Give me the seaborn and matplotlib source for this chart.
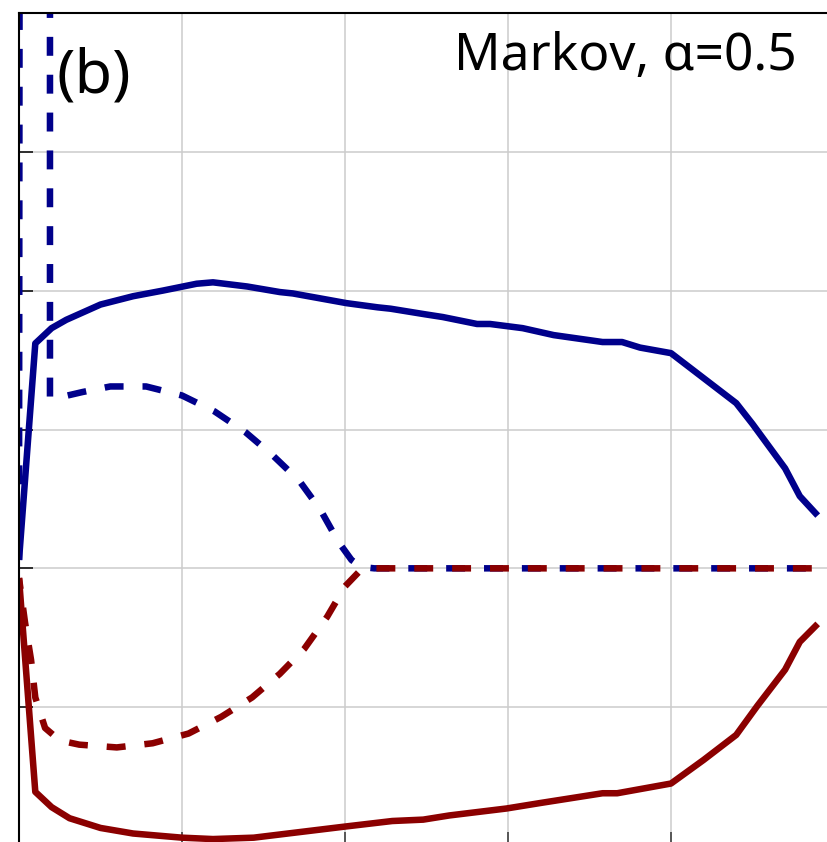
import numpy as np
import pandas as pd
import matplotlib
matplotlib.use("Agg")
import matplotlib.pyplot as plt
import seaborn as sns

# ---- data ----
blue_solid_x = [0.0, 0.10, 0.20, 0.29, 0.50, 0.70, 0.88, 1.09, 1.19, 1.40, 1.60, 1.68, 2.01, 2.20,
                2.28, 2.49, 2.60, 2.81, 2.89, 3.09, 3.28, 3.40, 3.58, 3.70, 3.81, 4.00, 4.40, 4.50,
                4.70, 4.79, 4.90]
blue_solid_y = [0.06, 1.62, 1.73, 1.79, 1.90, 1.96, 2.00, 2.05, 2.06, 2.03, 1.99, 1.98, 1.91, 1.88,
                1.87, 1.83, 1.81, 1.76, 1.76, 1.73, 1.68, 1.66, 1.63, 1.63, 1.59, 1.55, 1.19, 1.04,
                0.72, 0.52, 0.38]

blue_dash_x = [0.0, 0.008, 0.19, 0.19, 0.28, 0.39, 0.56, 0.78, 1.00, 1.20, 1.39, 1.56, 1.72, 1.85,
               1.96, 2.04, 2.10, 2.18, 4.90]
blue_dash_y = [0.06, 10.0, 10.0, 1.23, 1.24, 1.27, 1.31, 1.31, 1.245, 1.13, 0.98, 0.81, 0.63, 0.42,
               0.19, 0.06, 0.01, 0.0, 0.0]

red_solid_x = [0.0, 0.10, 0.20, 0.31, 0.50, 0.70, 1.00, 1.19, 1.44, 1.72, 2.00, 2.29, 2.48, 2.64,
               2.99, 3.20, 3.58, 3.67, 4.00, 4.20, 4.40, 4.53, 4.70, 4.79, 4.90]
red_solid_y = [-0.07, -1.61, -1.72, -1.80, -1.87, -1.91, -1.94, -1.95, -1.94, -1.90, -1.86, -1.82,
               -1.81, -1.78, -1.73, -1.69, -1.62, -1.62, -1.55, -1.38, -1.20, -0.99, -0.73, -0.53,
               -0.40]

red_dash_x = [0.0, 0.037, 0.074, 0.10, 0.16, 0.25, 0.37, 0.60, 0.82, 1.04, 1.24, 1.43, 1.60, 1.75,
              1.89, 2.00, 2.09, 2.18, 4.90]
red_dash_y = [-0.07, -0.39, -0.66, -0.93, -1.15, -1.24, -1.27, -1.29, -1.26, -1.19, -1.07, -0.93,
              -0.76, -0.58, -0.35, -0.13, -0.02, 0.0, 0.0]

x_ticks = [1, 2, 3, 4]
y_ticks = [-1, 0, 1, 2, 3]
panel_label = "(b)"
title_text = "Markov, α=0.5"

# ---- styling ----
sns.set_style("whitegrid")
plt.rcParams["font.family"] = ["Noto Sans", "DejaVu Sans"]

W, H = 828, 842
fig = plt.figure(figsize=(W / 100, H / 100), dpi=100)
ax = fig.add_axes([19 / W, (H - 846) / H, 815 / W, 833 / H])

navy = "#00008B"
dred = "#8B0000"
lw = 4.7
dash = (0, (2.9, 2.9))

sns.lineplot(x=blue_solid_x, y=blue_solid_y, ax=ax, color=navy, lw=lw, sort=False, estimator=None)
sns.lineplot(x=blue_dash_x, y=blue_dash_y, ax=ax, color=navy, lw=lw, sort=False, estimator=None,
             linestyle=dash)
sns.lineplot(x=red_solid_x, y=red_solid_y, ax=ax, color=dred, lw=lw, sort=False, estimator=None)
sns.lineplot(x=red_dash_x, y=red_dash_y, ax=ax, color=dred, lw=lw, sort=False, estimator=None,
             linestyle=(1.2, (2.9, 2.9)))

for l in ax.lines:
    l.set_dash_capstyle("butt")
    l.set_solid_capstyle("butt")

ax.set_xlim(0, 5)
ax.set_ylim(-2, 4)
ax.set_xticks(x_ticks)
ax.set_yticks(y_ticks)
ax.set_xticklabels([])
ax.set_yticklabels([])
ax.grid(True, color="#cccccc", lw=1.1)
ax.tick_params(axis="both", direction="in", length=10, width=1.1, colors="black",
               bottom=True, left=True, top=False, right=False)
ax.tick_params(axis="x", colors="#333333")
for side in ["left", "top"]:
    ax.spines[side].set_visible(True)
    ax.spines[side].set_color("black")
    ax.spines[side].set_linewidth(1.5)
for side in ["right", "bottom"]:
    ax.spines[side].set_visible(False)
ax.set_xlabel("")
ax.set_ylabel("")

fig.text(797 / W, 1 - 70 / H, title_text, ha="right", va="baseline", fontsize=37, color="black")
fig.text(57 / W, 1 - 92 / H, panel_label, ha="left", va="baseline", fontsize=44, color="black")

fig.savefig("out.png", dpi=100)
